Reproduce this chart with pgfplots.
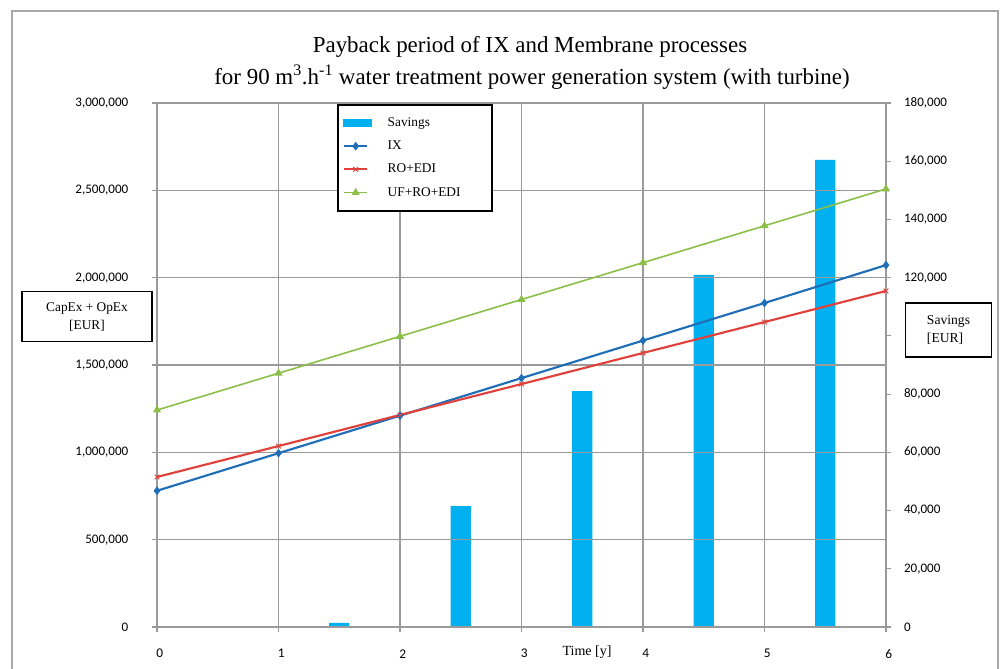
\documentclass[border=0pt]{standalone}
\usepackage{pgfplots}
\pgfplotsset{compat=1.18}
\usepackage{fontspec}
\setmainfont{Liberation Serif}
\newfontfamily\tickfont{Carlito}
\definecolor{barc}{HTML}{00B0F0}
\definecolor{ixc}{HTML}{1F6EB8}
\definecolor{roc}{HTML}{E0413B}
\definecolor{ufc}{HTML}{8CBF48}
\definecolor{gridc}{HTML}{9A9A9A}
\definecolor{framec}{HTML}{A8A8A8}
\begin{document}
\begin{tikzpicture}
\begin{scope}[x=0.75pt,y=-0.75pt]
\clip (0,0) rectangle (1003,668);
\fill[white] (0,0) rectangle (1003,668);
\draw[framec, line width=1.2pt] (12,11) rectangle (998,690);
\end{scope}
% bars (right axis)
\begin{axis}[
  at={(117.75pt,-470.25pt)}, anchor=south west,
  scale only axis, width=546.75pt, height=393pt,
  xmin=0, xmax=6, ymin=0, ymax=180000,
  axis x line=none, axis y line*=right,
  axis line style={gridc, line width=1pt, -},
  scaled y ticks=false,
  ytick={0,20000,...,180000},
  yticklabels={0,{20,000},{40,000},{60,000},{80,000},{},{120,000},{140,000},{160,000},{180,000}},
  tick align=outside, major tick length=4pt,
  tick style={gridc, line width=0.8pt},
  yticklabel style={anchor=west, xshift=6pt, font=\tickfont\fontsize{9.8}{11}\selectfont},
]
\addplot[ybar, bar width=0.165, fill=barc, draw=none] coordinates {
(1.5,1400) (2.5,41500) (3.5,81000) (4.5,121000) (5.5,160500)};
\end{axis}
% lines (left axis)
\begin{axis}[
  at={(117.75pt,-470.25pt)}, anchor=south west,
  scale only axis, width=546.75pt, height=393pt,
  xmin=0, xmax=6, ymin=0, ymax=3000000,
  axis x line*=bottom, axis y line*=left,
  axis line style={gridc, line width=1pt, -},
  xtick={0,...,6}, ytick={0,500000,...,3000000},
  grid=major, grid style={gridc, line width=0.9pt},
  tick align=outside, major tick length=4pt,
  tick style={gridc, line width=0.8pt},
  scaled y ticks=false,
  yticklabel style={anchor=east, xshift=-14pt, font=\tickfont\fontsize{9.8}{11}\selectfont},
  xticklabel style={anchor=center, yshift=-16pt, xshift=2pt, font=\tickfont\fontsize{10}{11}\selectfont},
  /pgf/number format/.cd, fixed, 1000 sep={,}, assume math mode=true,
  /pgfplots/.cd,
  legend cell align=left,
  legend style={at={(0.247,0.998)}, anchor=north west, draw=black, line width=1.3pt,
    font=\fontsize{10}{12}\selectfont, row sep=5.3pt, inner xsep=4pt, inner ysep=7.5pt},
]
\addlegendimage{legend image code/.code={\fill[barc] (0cm,-0.09cm) rectangle (0.7cm,0.09cm);}}
\addlegendentry{\hspace{10pt}\makebox[72pt][l]{Savings}}
\addplot[ixc, line width=1.6pt, mark=diamond*, mark size=2pt, mark options={solid}] coordinates {
(0,780000) (1,995000) (2,1210000) (3,1425000) (4,1640000) (5,1855000) (6,2072000)};
\addlegendentry{\hspace{10pt}IX}
\addplot[roc, line width=1.6pt, mark=x, mark size=2.5pt, mark options={line width=0.7pt}] coordinates {
(0,859000) (1,1036000) (2,1214000) (3,1391000) (4,1569000) (5,1746000) (6,1924000)};
\addlegendentry{\hspace{10pt}RO+EDI}
\addplot[ufc, line width=1.2pt, mark=triangle*, mark size=2.4pt] coordinates {
(0,1242000) (1,1453000) (2,1664000) (3,1875000) (4,2086000) (5,2297000) (6,2508000)};
\addlegendentry{\hspace{10pt}UF+RO+EDI}
\end{axis}
\begin{scope}[x=0.75pt,y=-0.75pt]
\node[font=\fontsize{17.2}{20}\selectfont] at (530,47) {Payback period of IX and Membrane processes};
\node[font=\fontsize{17.2}{20}\selectfont] at (532,77) {for 90 m\textsuperscript{3}.h\textsuperscript{-1} water treatment power generation system (with turbine)};
\node[draw, fill=white, line width=0.9pt, minimum width=97.5pt, minimum height=38pt, align=center, font=\fontsize{10}{13.5}\selectfont] at (87,316.5) {CapEx + OpEx\\{}[EUR]};
\node[draw, fill=white, line width=0.9pt, minimum width=64pt, minimum height=40.5pt, align=left, font=\fontsize{10.2}{13.5}\selectfont] at (948.5,330) {Savings\\{}[EUR]};
\node[font=\fontsize{10.5}{12}\selectfont] at (587,652) {Time [y]};
\end{scope}
\end{tikzpicture}
\end{document}
